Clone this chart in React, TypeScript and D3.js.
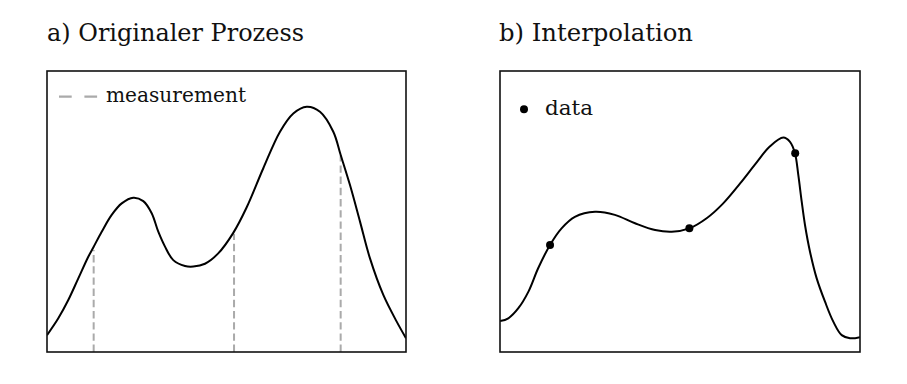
import React from "react";
import * as d3 from "d3";

// Panel a) original process (x in [0,10], y in [0,1])
const processX = [0, 0.315, 0.593, 0.872, 1.15, 1.29, 1.524, 1.802, 2.081, 2.404, 2.682, 2.916, 3.1, 3.287, 3.518, 3.844, 4.075, 4.401, 4.763, 5.189, 5.563, 6.025, 6.49, 6.861, 7.234, 7.604, 7.975, 8.181, 8.44, 8.719, 8.997, 9.368, 9.741, 10];
const processY = [0.06, 0.12, 0.185, 0.262, 0.339, 0.372, 0.428, 0.488, 0.529, 0.549, 0.537, 0.494, 0.428, 0.375, 0.327, 0.306, 0.304, 0.314, 0.35, 0.424, 0.515, 0.654, 0.784, 0.849, 0.873, 0.855, 0.784, 0.701, 0.594, 0.464, 0.333, 0.203, 0.108, 0.049];

// measurement positions
const measX = [1.3, 5.21, 8.18];
const measY = [0.363, 0.42, 0.7];

// Panel b) interpolation
const interpX = [0, 0.23, 0.51, 0.79, 1.06, 1.39, 1.71, 2.08, 2.64, 3.19, 3.75, 4.31, 4.77, 5.26, 5.74, 6.2, 6.67, 7.13, 7.5, 7.869, 8.056, 8.194, 8.286, 8.381, 8.472, 8.611, 8.797, 9.028, 9.258, 9.492, 9.722, 10];
const interpY = [0.11, 0.12, 0.156, 0.215, 0.298, 0.381, 0.44, 0.481, 0.499, 0.488, 0.458, 0.434, 0.428, 0.44, 0.476, 0.529, 0.6, 0.675, 0.732, 0.763, 0.748, 0.707, 0.63, 0.535, 0.452, 0.357, 0.262, 0.179, 0.108, 0.06, 0.049, 0.053];

const dataX = [1.39, 5.26, 8.2];
const dataY = [0.381, 0.44, 0.707];

const titles = ["a) Originaler Prozess", "b) Interpolation"];
const legendLabels = ["measurement", "data"];

const FONT = "DejaVu Serif";

export default function App() {
  const W = 907, H = 384;
  const top = 71, bottom = 352;
  const boxesX = [[47, 406], [500, 860]];

  const yScale = d3.scaleLinear().domain([0, 1]).range([bottom, top]);
  const xA = d3.scaleLinear().domain([0, 10]).range(boxesX[0]);
  const xB = d3.scaleLinear().domain([0, 10]).range(boxesX[1]);

  const lineA = d3.line<number>()
    .x((_, i) => xA(processX[i]))
    .y((d) => yScale(d))
    .curve(d3.curveCatmullRom.alpha(0.5));
  const lineB = d3.line<number>()
    .x((_, i) => xB(interpX[i]))
    .y((d) => yScale(d))
    .curve(d3.curveCatmullRom.alpha(0.5));

  return (
    <svg width={W} height={H} style={{ position: "absolute", left: 0, top: 0, background: "#fff" }}>
      <defs>
        <clipPath id="clipA"><rect x={boxesX[0][0]} y={top} width={boxesX[0][1] - boxesX[0][0]} height={bottom - top} /></clipPath>
        <clipPath id="clipB"><rect x={boxesX[1][0]} y={top} width={boxesX[1][1] - boxesX[1][0]} height={bottom - top} /></clipPath>
      </defs>
      <g fontFamily={FONT} fill="#111">
        <text x={47} y={41} fontSize={24} textLength={257} lengthAdjust="spacingAndGlyphs">{titles[0]}</text>
        <text x={499} y={41} fontSize={24} textLength={194} lengthAdjust="spacingAndGlyphs">{titles[1]}</text>
        <text x={106} y={101.7} fontSize={21} textLength={140} lengthAdjust="spacingAndGlyphs">{legendLabels[0]}</text>
        <text x={545} y={115} fontSize={21} textLength={48} lengthAdjust="spacingAndGlyphs">{legendLabels[1]}</text>
      </g>

      {/* Panel a */}
      <g clipPath="url(#clipA)">
        {measX.map((mx, i) => (
          <line key={i} x1={xA(mx)} x2={xA(mx)} y1={bottom} y2={yScale(measY[i])}
            stroke="#aaaaaa" strokeWidth={2} strokeDasharray="7.4 3.8" />
        ))}
        <path d={lineA(processY) || ""} fill="none" stroke="#000" strokeWidth={2} />
      </g>
      <rect x={boxesX[0][0]} y={top} width={boxesX[0][1] - boxesX[0][0]} height={bottom - top} fill="none" stroke="#111" strokeWidth={1.6} />
      <line x1={59} x2={97.5} y1={96.7} y2={96.7} stroke="#aaaaaa" strokeWidth={2.2} strokeDasharray="12.7 12.7" />

      {/* Panel b */}
      <g clipPath="url(#clipB)">
        <path d={lineB(interpY) || ""} fill="none" stroke="#000" strokeWidth={2} />
      </g>
      {dataX.map((dx, i) => (
        <circle key={i} cx={xB(dx)} cy={yScale(dataY[i])} r={4} fill="#000" />
      ))}
      <rect x={boxesX[1][0]} y={top} width={boxesX[1][1] - boxesX[1][0]} height={bottom - top} fill="none" stroke="#111" strokeWidth={1.6} />
      <circle cx={524} cy={109.3} r={4} fill="#000" />
    </svg>
  );
}
